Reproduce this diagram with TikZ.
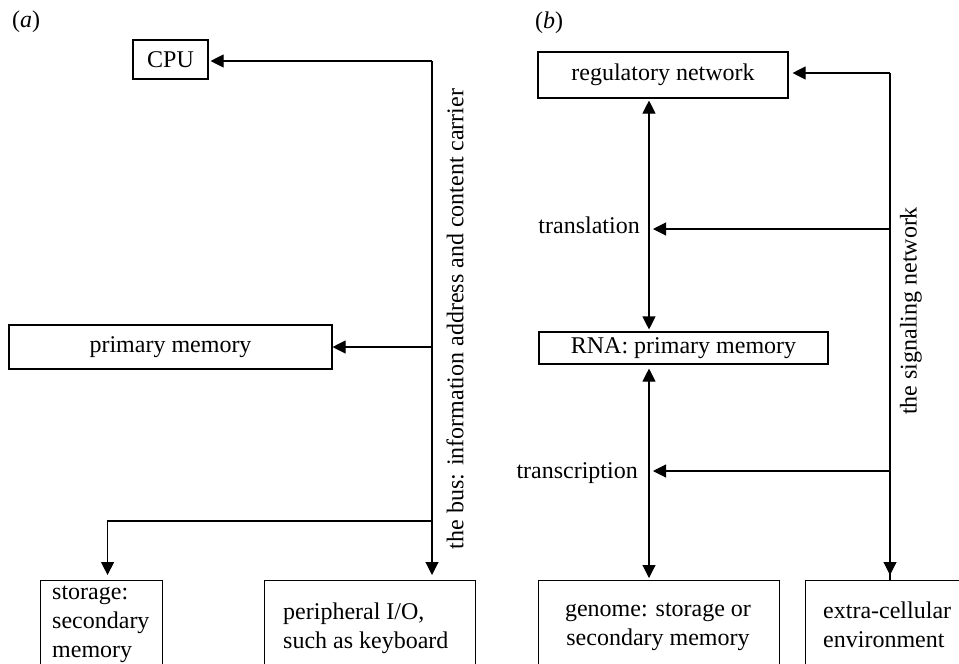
\documentclass[tikz,border=0pt]{standalone}
\usepackage{fontspec}
\setmainfont{Liberation Serif}
\usetikzlibrary{arrows.meta}
\begin{document}
\begin{tikzpicture}[x=1pt,y=-1pt,
  every node/.style={font=\fontsize{24}{29}\selectfont},
  box/.style={draw,line width=1.1pt,inner sep=0pt},
  arr/.style={line width=1.1pt,-{Triangle[length=13pt,width=13pt]}},
  dbl/.style={line width=1.1pt,{Triangle[length=13pt,width=13pt]}-{Triangle[length=13pt,width=13pt]}},
  ln/.style={line width=1.1pt}]
\clip (0,0) rectangle (959,664);
\fill[white] (0,0) rectangle (959,664);
% (a)
\node[anchor=base west,inner sep=0pt] (la) at (12,27) {(\textit{a})};
\node[box,minimum width=75pt,minimum height=39pt] (cpu) at (170.5,59.5) {CPU};
\node[box,minimum width=323pt,minimum height=44pt] (prim) at (170.5,347) {primary memory};
\node[box,anchor=north west,minimum width=122pt,minimum height=140pt] (stor) at (40,580) {};
\node[anchor=north west,align=left,inner sep=0pt,font=\fontsize{24}{29}\selectfont] (stortxt) at (52,586) {storage:\\secondary\\memory};
\node[box,anchor=north west,minimum width=211pt,minimum height=140pt] (peri) at (264,580) {};
\node[anchor=north west,align=left,inner sep=0pt] (peritxt) at (283,603) {peripheral I/O,\\such as keyboard};
\coordinate (bt) at (432,61);
\coordinate (br) at (432,521);
\draw[ln] (bt) -- (br);
\draw[arr,shorten >=2pt] (bt) -- (cpu.east |- bt);
\draw[arr] (bt |- prim.east) -- (prim.east);
\draw[arr,shorten >=5pt] (br) -- (peri.north -| br);
\draw[arr,shorten >=5pt] (br) -| ([xshift=6pt]stor.north);
\node[rotate=90,inner sep=0pt] (bustxt) at (455,319) {the bus: information address and content carrier};
% (b)
\node[anchor=base west,inner sep=0pt] (lb) at (535,28) {(\textit{b})};
\node[box,minimum width=250pt,minimum height=46pt] (reg) at (663,75) {regulatory network};
\node[box,minimum width=289pt,minimum height=32pt] (rna) at (683.5,348) {RNA: primary memory};
\node[box,anchor=north west,minimum width=241pt,minimum height=140pt] (gen) at (538,580) {};
\node[anchor=north,align=center,inner sep=0pt] (gentxt) at (658,603) {genome: storage or\\secondary memory};
\node[box,anchor=north west,minimum width=200pt,minimum height=140pt] (ext) at (805,580) {};
\node[anchor=north west,align=left,inner sep=0pt] (exttxt) at (823,602) {extra-cellular\\environment};
\coordinate (dx) at (649,0);
\draw[dbl,shorten <=2pt,shorten >=2pt] (dx |- reg.south) -- (dx |- rna.north);
\draw[dbl,shorten <=4pt,shorten >=2pt] (dx |- rna.south) -- (dx |- gen.north);
\coordinate (st) at (890,73);
\coordinate (sb) at (890,580);
\draw[ln] (st) -- (sb);
\draw[arr,shorten >=4pt] (st) -- (reg.east |- st);
\draw[arr,shorten >=5pt] (st) -- (sb);
\node[anchor=base east,inner sep=0pt] (trl) at (640,233) {translation};
\node[anchor=base east,inner sep=0pt] (trc) at (638,478) {transcription};
\coordinate (t1) at (890,229);
\coordinate (t2) at (890,471);
\draw[arr] (t1) -- (653,229);
\draw[arr] (t2) -- (653,471);
\node[rotate=90,inner sep=0pt] (sigtxt) at (911,311) {the signaling network};
\end{tikzpicture}
\end{document}
